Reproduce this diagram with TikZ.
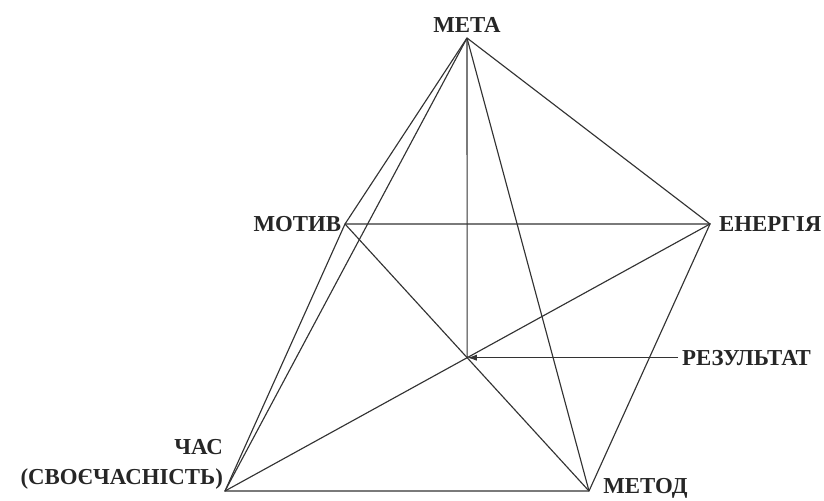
\documentclass[tikz,border=0pt]{standalone}
\usepackage{fontspec}
\setmainfont{Liberation Serif}
\usetikzlibrary{positioning, calc, arrows.meta, intersections}

\begin{document}
\begin{tikzpicture}[x=0.02cm, y=-0.02cm,
    edge/.style={draw=black!80, line width=0.65pt},
    lbl/.style={font=\fontsize{13}{17}\selectfont\bfseries, text=black!85, inner sep=2pt}]
    \useasboundingbox (0,0) rectangle (824,500);

    % vertices
    \coordinate (meta) at (467,38);
    \coordinate (motyv) at (345,224);
    \coordinate (energy) at (710,224);
    \coordinate (chas) at (225,491);
    \coordinate (metod) at (589,491);
    \path[name path=diagA] (motyv) -- (metod);
    \path[name path=diagB] (chas) -- (energy);
    \path[name intersections={of=diagA and diagB, by=result}];

    % base
    \draw[edge] (motyv) -- (energy) -- (metod) -- (chas) -- cycle;
    \draw[edge] (motyv) -- (metod);
    \draw[edge] (chas) -- (energy);

    % edges from the apex
    \draw[edge] (meta) -- (motyv);
    \draw[edge] (meta) -- (chas);
    \draw[edge] (meta) -- (metod);
    \draw[edge] (meta) -- (energy);
    \draw[edge] (meta) -- (result);

    % labels
    \node[lbl, anchor=south, inner sep=3pt] (lmeta) at (meta) {МЕТА};
    \node[lbl, anchor=east] (lmotyv) at (motyv) {МОТИВ};
    \node[lbl, anchor=west, xshift=3pt] (lenergy) at (energy) {ЕНЕРГІЯ};
    \node[lbl, anchor=south east, align=right, inner sep=1pt] (lchas) at (chas) {ЧАС\\(СВОЄЧАСНІСТЬ)};
    \node[lbl, anchor=west, yshift=1.5pt, xshift=6pt] (lmetod) at (metod) {МЕТОД};
    \node[lbl, anchor=west] (lresult) at ($(result)+(211,0)$) {РЕЗУЛЬТАТ};
    \draw[edge, -{Latex[length=5.5pt, width=3.5pt]}] (lresult.west) -- (result);
\end{tikzpicture}
\end{document}
